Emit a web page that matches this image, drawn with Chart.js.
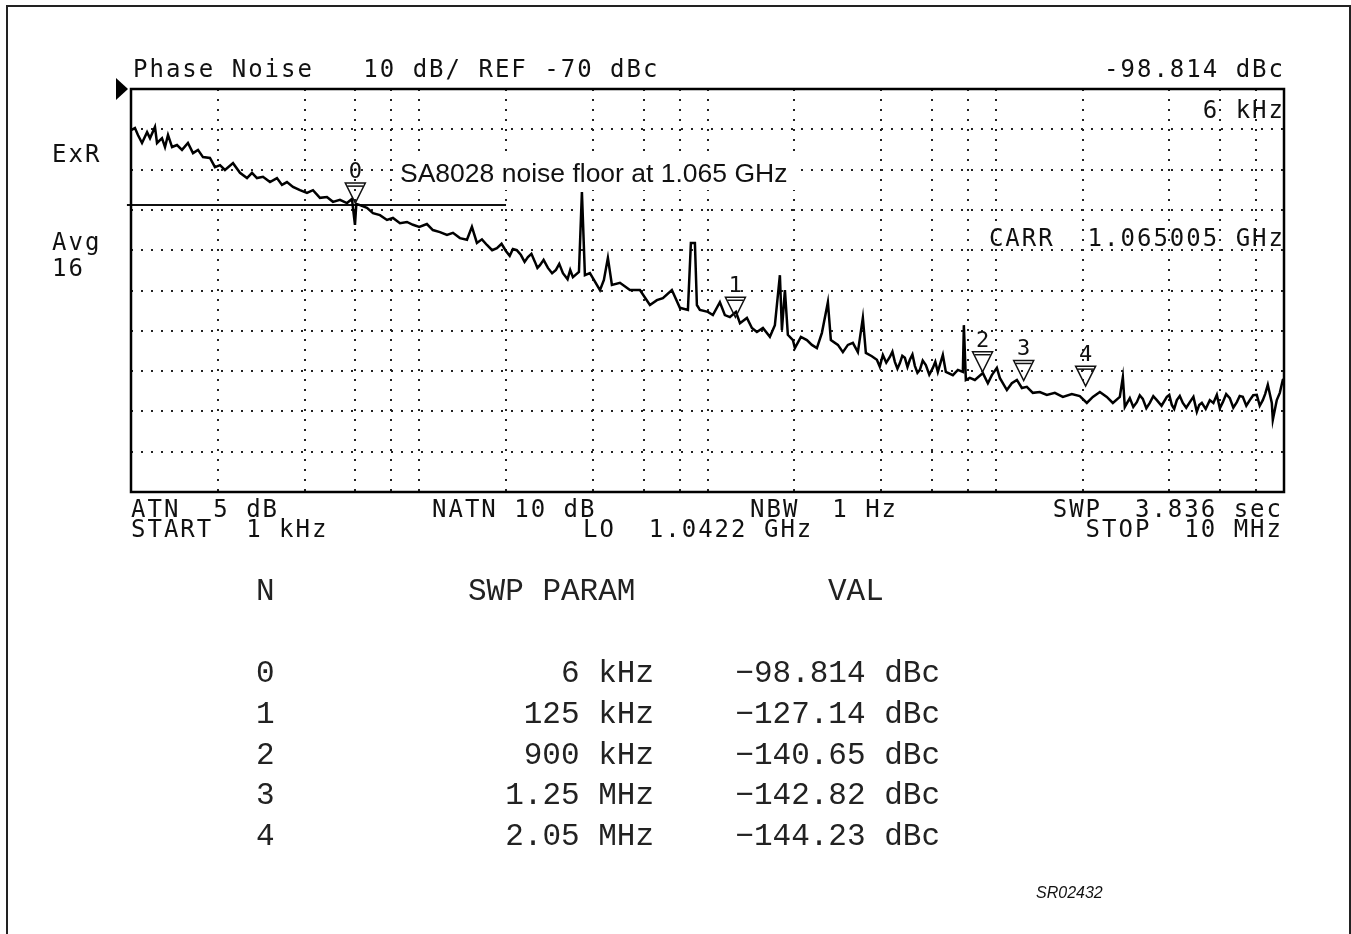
<!DOCTYPE html>
<html>
<head>
<meta charset="utf-8">
<title>Phase Noise</title>
<script src="https://cdn.jsdelivr.net/npm/chart.js@4.4.1/dist/chart.umd.min.js"></script>
<style>
  html, body { margin: 0; padding: 0; background: #fff; }
  body { position: relative; width: 1351px; height: 934px; overflow: hidden; }
  #chart { position: absolute; left: 0; top: 0; width: 1351px; height: 934px; }
  .frame { position: absolute; left: 6px; top: 5px; width: 1341px; height: 980px; border: 2px solid #222; border-bottom: none; }
  .mono { position: absolute; font-family: "DejaVu Sans Mono", monospace; font-size: 24px; line-height: 24px; letter-spacing: 2px; white-space: pre; color: #111; }
  .tbl { position: absolute; font-family: "Liberation Mono", monospace; font-size: 31px; line-height: 31px; white-space: pre; color: #222; }
  .box { position: absolute; left: 395px; top: 155px; width: 402px; height: 35px; background: #fff; }
  .note { position: absolute; left: 400px; top: 160px; font-family: "Liberation Sans", Arial, sans-serif; font-size: 26.5px; line-height: 26.5px; white-space: pre; color: #111; }
  .code { position: absolute; left: 1036px; top: 885px; font-family: "Liberation Sans", Arial, sans-serif; font-style: italic; font-size: 16px; line-height: 16px; color: #111; }
  .refmark { position: absolute; left: 116px; top: 78px; width: 0; height: 0; border-left: 12px solid #000; border-top: 11px solid transparent; border-bottom: 11px solid transparent; }
</style>
</head>
<body>
<canvas id="chart" width="1351" height="934"></canvas>
<div class="frame"></div>
<div class="refmark"></div>

<div class="mono" style="left:133px; top:57px;">Phase Noise   10 dB/ REF -70 dBc</div>
<div class="mono" style="right:66px; top:57px;">-98.814 dBc</div>
<div class="mono" style="right:66px; top:98px;">6 kHz</div>
<div class="mono" style="right:66px; top:226px;">CARR  1.065005 GHz</div>
<div class="mono" style="left:52px; top:142px;">ExR</div>
<div class="mono" style="left:52px; top:230px;">Avg</div>
<div class="mono" style="left:52px; top:256px;">16</div>

<div class="mono" style="left:131px; top:497px;">ATN  5 dB</div>
<div class="mono" style="left:432px; top:497px;">NATN 10 dB</div>
<div class="mono" style="left:750px; top:497px;">NBW  1 Hz</div>
<div class="mono" style="right:68px; top:497px;">SWP  3.836 sec</div>
<div class="mono" style="left:131px; top:517px;">START  1 kHz</div>
<div class="mono" style="left:583px; top:517px;">LO  1.0422 GHz</div>
<div class="mono" style="right:68px; top:517px;">STOP  10 MHz</div>

<div class="box"></div>
<div class="note">SA8028 noise floor at 1.065 GHz</div>

<div id="table"></div>
<div class="code">SR02432</div>

<script>
// trace, offset frequency in kHz / level in dBc
const dec1Khz = [1.000, 1.032, 1.057, 1.092, 1.137, 1.164, 1.211, 1.231, 1.281, 1.312, 1.344, 1.388, 1.444, 1.503, 1.576, 1.641, 1.708, 1.777, 1.879, 1.956, 2.036, 2.118, 2.259, 2.388, 2.526, 2.629, 2.735, 2.870, 3.035, 3.209, 3.340, 3.476, 3.647, 3.857, 4.078, 4.279, 4.524, 4.784, 5.019, 5.307, 5.614, 5.842, 5.984, 6.050, 6.228, 6.586, 6.910, 7.308, 7.727, 8.106, 8.574, 9.067, 9.509];
const dec1Dbc = [-80.2, -79.7, -81.4, -83.4, -80.7, -82.2, -79.4, -83.4, -82.2, -84.4, -81.4, -84.4, -83.9, -85.1, -83.4, -85.9, -85.1, -86.9, -87.1, -89.4, -88.9, -90.1, -88.4, -90.8, -92.1, -90.8, -92.1, -91.8, -93.1, -92.1, -93.8, -93.1, -94.3, -95.1, -95.8, -95.1, -97.0, -96.8, -98.0, -97.5, -98.3, -97.3, -103.7, -98.5, -98.8, -99.5, -100.8, -101.3, -102.5, -102.0, -103.3, -103.0, -103.7];

const dec2Khz = [10.00, 10.63, 11.15, 11.80, 12.48, 13.09, 13.84, 14.64, 15.23, 15.85, 16.5, 17.17, 17.9, 18.60, 19.3, 19.98, 20.6, 21.13, 21.8, 22.53, 23.2, 23.82, 24.5, 25.20, 25.7, 26.23, 27.0, 27.95, 28.9, 29.80, 30.6, 31.51, 32.7, 33.4, 34.13, 35.81, 36.67, 37.56, 39.09, 42.36, 43.71, 45.13, 46.60, 49.69, 53.81, 58.29, 63.13, 66.76, 70.02, 75.23, 80.21, 85.51, 87.58, 90.43, 91.88, 94.10];
const dec2Dbc = [-104.2, -103.5, -105.0, -105.5, -106.2, -105.7, -107.0, -107.4, -104.2, -108.2, -107.3, -108.7, -110.0, -109.5, -108.4, -110.2, -111.4, -109.7, -110.0, -111.2, -112.9, -111.7, -110.9, -112.9, -114.4, -113.7, -112.4, -114.4, -115.7, -114.9, -113.4, -115.7, -117.2, -114.9, -116.7, -115.4, -95.6, -116.2, -115.7, -119.9, -117.4, -111.9, -118.6, -118.1, -119.9, -119.9, -123.6, -122.4, -121.9, -119.9, -124.3, -124.8, -108.2, -108.2, -123.6, -124.8];

const dec3Khz = [100.3, 104.4, 110.4, 114.9, 119.6, 125.5, 129.6, 137.0, 142.6, 148.4, 155.7, 164.6, 171.3, 178.3, 181.2, 185.6, 190.0, 197.8, 201.0, 210.9, 221.2, 230.2, 239.6, 249.4, 261.6, 267.9, 283.4, 294.9, 306.9, 319.4, 332.4, 345.9, 354.3, 371.7, 386.9, 396, 405.9, 417, 429.2, 438, 446.7, 456, 465.0, 474, 483.9, 494, 503.5, 514, 524.1, 535, 545.4, 558, 572.1, 588, 605.0, 617, 629.6, 655.3, 671.2, 710.0, 738.9, 769.0, 775.1, 787.6, 813.2, 846.3, 902.2, 938.9, 969.4];
const dec3Dbc = [-125.3, -126.1, -122.9, -126.1, -126.6, -125.3, -128.1, -126.8, -129.3, -130.3, -129.3, -131.5, -128.6, -116.2, -129.8, -119.9, -131.0, -132.3, -134.3, -131.5, -132.3, -133.5, -134.3, -130.5, -122.9, -132.3, -133.5, -135.3, -133.5, -133.0, -135.3, -126.8, -135.5, -136.3, -137.2, -138.9, -136.0, -137.9, -136.5, -135.2, -137.7, -139.4, -138.0, -136.2, -136.7, -139.0, -137.2, -135.9, -138.7, -140.4, -139.7, -137.4, -138.5, -140.9, -139.2, -137.7, -140.2, -136.0, -140.2, -141.0, -139.7, -140.2, -128.6, -142.2, -141.7, -142.2, -140.5, -143.0, -141.0];

const dec4Khz = [1009, 1033, 1093, 1137, 1184, 1232, 1282, 1345, 1422, 1504, 1603, 1709, 1836, 1957, 2070, 2172, 2297, 2428, 2548, 2694, 2760, 2804, 2918, 3000, 3086, 3160, 3237, 3330, 3423, 3520, 3621, 3760, 3923, 4000, 4082, 4160, 4249, 4350, 4457, 4580, 4713, 4850, 4984, 5080, 5187, 5350, 5529, 5690, 5848, 5990, 6135, 6300, 6486, 6670, 6861, 7020, 7196, 7400, 7609, 7820, 8047, 8240, 8443, 8600, 8787, 9073, 9146, 9441, 9670, 9903, 10000];
const dec4Dbc = [-139.2, -141.7, -144.7, -143.0, -142.2, -144.2, -143.9, -145.4, -145.2, -145.9, -145.4, -146.4, -145.7, -146.2, -147.9, -146.4, -145.2, -146.4, -147.9, -146.4, -141.5, -148.9, -146.7, -148.9, -147.7, -146.0, -146.9, -149.2, -147.9, -146.2, -147.2, -148.6, -146.4, -145.9, -148.4, -149.4, -147.2, -146.2, -147.9, -149.1, -147.7, -146.4, -150.1, -148.4, -147.9, -149.4, -147.2, -147.9, -145.9, -149.2, -147.7, -145.7, -146.7, -149.1, -147.7, -146.2, -146.4, -148.6, -147.2, -146.0, -145.9, -148.6, -147.2, -145.7, -143.4, -147.9, -152.1, -147.2, -145.4, -142.2, -142.0];

// noise floor line drawn across the left part of the screen
const floorKhz = [0.968, 20];
const floorDbc = [-98.8, -98.8];

// markers
const markerLabels = ['0', '1', '2', '3', '4'];
const markerKhz = [6, 125, 900, 1250, 2050];
const markerDbc = [-98.814, -127.14, -140.65, -142.82, -144.23];
const markerParam = ['6 kHz', '125 kHz', '900 kHz', '1.25 MHz', '2.05 MHz'];
const markerVal = ['\u221298.814 dBc', '\u2212127.14 dBc', '\u2212140.65 dBc', '\u2212142.82 dBc', '\u2212144.23 dBc'];

// graticule
const xGridKhz = [1, 2, 4, 6, 8, 10, 20, 40, 60, 80, 100, 200, 400, 600, 800, 1000, 2000, 4000, 6000, 8000, 10000];
const yMin = -170, yMax = -70, yStep = 10;

const traceKhz = dec1Khz.concat(dec2Khz, dec3Khz, dec4Khz);
const traceDbc = dec1Dbc.concat(dec2Dbc, dec3Dbc, dec4Dbc);

function buildTable() {
    const t = document.getElementById('table');
    const add = (txt, css) => {
        const d = document.createElement('div');
        d.className = 'tbl';
        d.textContent = txt;
        d.style.cssText += css;
        t.appendChild(d);
    };
    add('N', 'left:256px; top:576px;');
    add('SWP PARAM', 'left:468px; top:576px;');
    add('VAL', 'left:828px; top:576px;');
    const rowTops = [658, 699, 740, 780, 821];
    markerLabels.forEach((n, i) => {
        add(n, `left:256px; top:${rowTops[i]}px;`);
        add(markerParam[i], `right:697px; top:${rowTops[i]}px;`);
        add(markerVal[i], `right:411px; top:${rowTops[i]}px;`);
    });
}

const screenPlugin = {
    id: 'screen',
    afterDatasetsDraw(chart) {
        const {ctx, chartArea, scales: {x, y}} = chart;
        ctx.save();
        ctx.strokeStyle = '#111';
        ctx.fillStyle = '#111';
        ctx.lineWidth = 1.5;
        ctx.font = '22px "DejaVu Sans Mono"';
        ctx.textAlign = 'center';
        ctx.textBaseline = 'alphabetic';
        markerKhz.forEach((f, i) => {
            const px = x.getPixelForValue(f);
            const py = y.getPixelForValue(markerDbc[i]);
            ctx.beginPath();
            ctx.moveTo(px - 10, py - 22);
            ctx.lineTo(px + 10, py - 22);
            ctx.lineTo(px, py - 2);
            ctx.closePath();
            ctx.stroke();
            ctx.beginPath();
            ctx.moveTo(px - 8, py - 19);
            ctx.lineTo(px + 8, py - 19);
            ctx.stroke();
            ctx.fillText(markerLabels[i], px, py - 27);
        });
        // screen border
        ctx.lineWidth = 2.5;
        ctx.strokeStyle = '#000';
        ctx.strokeRect(chartArea.left, chartArea.top, chartArea.right - chartArea.left, chartArea.bottom - chartArea.top);
        ctx.restore();
    }
};

const gridStyle = { color: '#222', lineWidth: 2, drawTicks: false };
const dotted = { display: false, dash: [2, 8] };

function renderChart() {
    const ctx = document.getElementById('chart').getContext('2d');
    new Chart(ctx, {
        type: 'line',
        data: {
            datasets: [
                {
                    label: 'Phase noise',
                    data: traceKhz.map((f, i) => ({ x: f, y: traceDbc[i] })),
                    borderColor: '#000',
                    borderWidth: 2.5,
                    pointRadius: 0,
                    tension: 0
                },
                {
                    label: 'Noise floor',
                    data: floorKhz.map((f, i) => ({ x: f, y: floorDbc[i] })),
                    borderColor: '#111',
                    borderWidth: 2,
                    pointRadius: 0,
                    clip: false
                }
            ]
        },
        options: {
            responsive: false,
            animation: false,
            devicePixelRatio: 1,
            layout: { padding: { left: 131, top: 89, right: 67, bottom: 442 } },
            plugins: {
                legend: { display: false },
                tooltip: { enabled: false }
            },
            scales: {
                x: {
                    type: 'logarithmic',
                    min: 1,
                    max: 10000,
                    afterBuildTicks: (scale) => {
                        scale.ticks = xGridKhz.map(v => ({ value: v }));
                    },
                    ticks: { display: false },
                    grid: gridStyle,
                    border: dotted
                },
                y: {
                    type: 'linear',
                    min: yMin,
                    max: yMax,
                    ticks: { display: false, stepSize: yStep },
                    grid: gridStyle,
                    border: dotted
                }
            }
        },
        plugins: [screenPlugin]
    });
}

buildTable();
renderChart();
</script>
</body>
</html>
